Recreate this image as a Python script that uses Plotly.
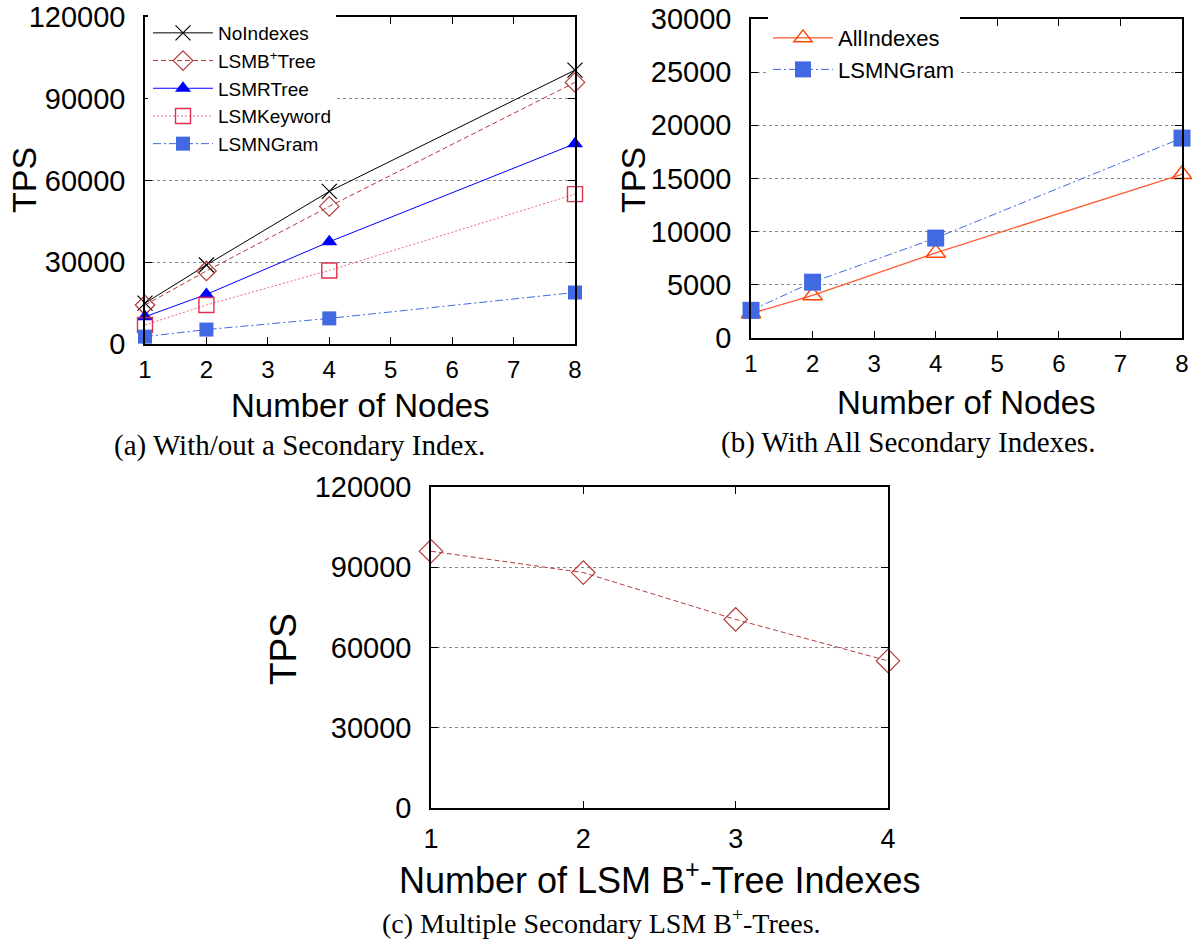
import plotly.graph_objects as go

# ---- data -------------------------------------------------------------
nodes = [1, 2, 4, 8]

tps_no_indexes = [15000, 29000, 56000, 100500]
tps_lsm_btree = [14300, 26800, 50500, 96000]
tps_lsm_rtree = [10000, 18200, 37500, 73500]
tps_lsm_keyword = [7000, 14300, 27000, 55000]
tps_lsm_ngram = [2700, 5300, 9400, 18900]

tps_all_indexes = [2300, 4000, 8000, 15400]
tps_ngram_all = [2600, 5250, 9400, 18800]

num_btree_indexes = [1, 2, 3, 4]
tps_multi_btree = [96000, 88000, 70500, 55000]

W, H = 1200, 945
SANS = "Liberation Sans, Arial, sans-serif"
SERIF = "Liberation Serif, Times New Roman, serif"


def px(x):
    return x / W


def py(y):
    return 1 - y / H


fig = go.Figure()


def add_series(xs, ys, name, xa, ya, legend, color, dash, symbol, size,
               line_color=None, width=1.0, show=True, mline=1.2):
    filled = not symbol.endswith("open")
    fig.add_trace(go.Scatter(
        x=xs, y=ys, name=name, xaxis=xa, yaxis=ya, legend=legend,
        mode="lines+markers", showlegend=show, cliponaxis=False,
        line=dict(color=line_color or color, width=width, dash=dash),
        marker=dict(symbol=symbol, size=size, color=color,
                    line=dict(color=color, width=0 if filled else mline)),
    ))


# (a) with/out a secondary index
add_series(nodes, tps_no_indexes, "NoIndexes", "x", "y", "legend",
           "#000000", "solid", "x-thin-open", 15)
add_series(nodes, tps_lsm_btree, "LSMB<sup>+</sup>Tree", "x", "y", "legend",
           "#B33A3A", "5px,3px", "diamond-open", 15)
add_series(nodes, tps_lsm_rtree, "LSMRTree", "x", "y", "legend",
           "#0000FF", "solid", "triangle-up", 14)
add_series(nodes, tps_lsm_keyword, "LSMKeyword", "x", "y", "legend",
           "#E0304F", "2px,2px", "square-open", 15, line_color="#EE6A85",
           mline=1.4)
add_series(nodes, tps_lsm_ngram, "LSMNGram", "x", "y", "legend",
           "#4169E1", "8px,3px,2px,3px", "square", 14)

# (b) with all secondary indexes
add_series(nodes, tps_all_indexes, "AllIndexes", "x2", "y2", "legend2",
           "#FF4500", "solid", "triangle-up-open", 17, line_color="#FF5A2E",
           width=1.3, mline=1.4)
add_series(nodes, tps_ngram_all, "LSMNGram", "x2", "y2", "legend2",
           "#4169E1", "8px,3px,2px,3px", "square", 17)

# (c) multiple secondary LSM B+-trees
add_series(num_btree_indexes, tps_multi_btree, "LSMB<sup>+</sup>Tree",
           "x3", "y3", "legend3", "#B33A3A", "5px,3px", "diamond-open", 18,
           show=False)

axis_common = dict(
    showline=True, linecolor="black", linewidth=1.5, mirror="allticks",
    ticks="inside", ticklen=7, tickcolor="black", tickwidth=1,
    zeroline=False, automargin=False,
)
xaxis_common = dict(axis_common, showgrid=False, dtick=1,
                    tickfont=dict(family=SANS, size=24, color="black"),
                    ticklabelstandoff=3)
yaxis_common = dict(axis_common, showgrid=True, gridcolor="#8a8a8a",
                    griddash="dot", gridwidth=1, tickformat="d",
                    tickfont=dict(family=SANS, size=29, color="black"),
                    ticklabelstandoff=12)

fig.update_layout(
    width=W, height=H,
    margin=dict(l=0, r=0, t=0, b=0, autoexpand=False),
    paper_bgcolor="white", plot_bgcolor="white",
    xaxis=dict(xaxis_common, domain=[px(145), px(575)], range=[1, 8],
               anchor="y"),
    yaxis=dict(yaxis_common, domain=[py(344), py(17)], range=[0, 120000],
               dtick=30000, anchor="x"),
    xaxis2=dict(xaxis_common, domain=[px(751), px(1182)], range=[1, 8],
                anchor="y2"),
    yaxis2=dict(yaxis_common, domain=[py(338), py(19)], range=[0, 30000],
                dtick=5000, anchor="x2"),
    xaxis3=dict(xaxis_common, domain=[px(431), px(888)], range=[1, 4],
                anchor="y3", tickfont=dict(family=SANS, size=27,
                                           color="black"),
                ticklabelstandoff=6),
    yaxis3=dict(yaxis_common, domain=[py(808), py(487)], range=[0, 120000],
                dtick=30000, anchor="x3"),
    legend=dict(x=px(148), y=py(14), xanchor="left", yanchor="top",
                bgcolor="white", borderwidth=0, itemwidth=60,
                font=dict(family=SANS, size=19, color="black"),
                tracegroupgap=0),
    legend2=dict(x=px(768), y=py(17), xanchor="left", yanchor="top",
                 bgcolor="white", borderwidth=0, itemwidth=60,
                 font=dict(family=SANS, size=22, color="black")),
    showlegend=True,
)

annotations = [
    ("TPS", 24, 180, 34, SANS, -90),
    ("TPS", 633, 180, 34, SANS, -90),
    ("TPS", 283, 649, 37, SANS, -90),
    ("Number of Nodes", 360, 405, 33, SANS, 0),
    ("Number of Nodes", 966, 402, 33, SANS, 0),
    ("Number of LSM B<sup>+</sup>-Tree Indexes", 660, 878, 36, SANS, 0),
    ("(a) With/out a Secondary Index.", 299, 446, 29, SERIF, 0),
    ("(b) With All Secondary Indexes.", 908, 442, 29, SERIF, 0),
    ("(c) Multiple Secondary LSM B<sup>+</sup>-Trees.", 601, 921, 28, SERIF, 0),
]
for text, x, y, size, family, angle in annotations:
    fig.add_annotation(text=text, x=px(x), y=py(y), xref="paper",
                       yref="paper", showarrow=False, textangle=angle,
                       xanchor="center", yanchor="middle",
                       font=dict(family=family, size=size, color="black"))

fig.write_html("out.html")
